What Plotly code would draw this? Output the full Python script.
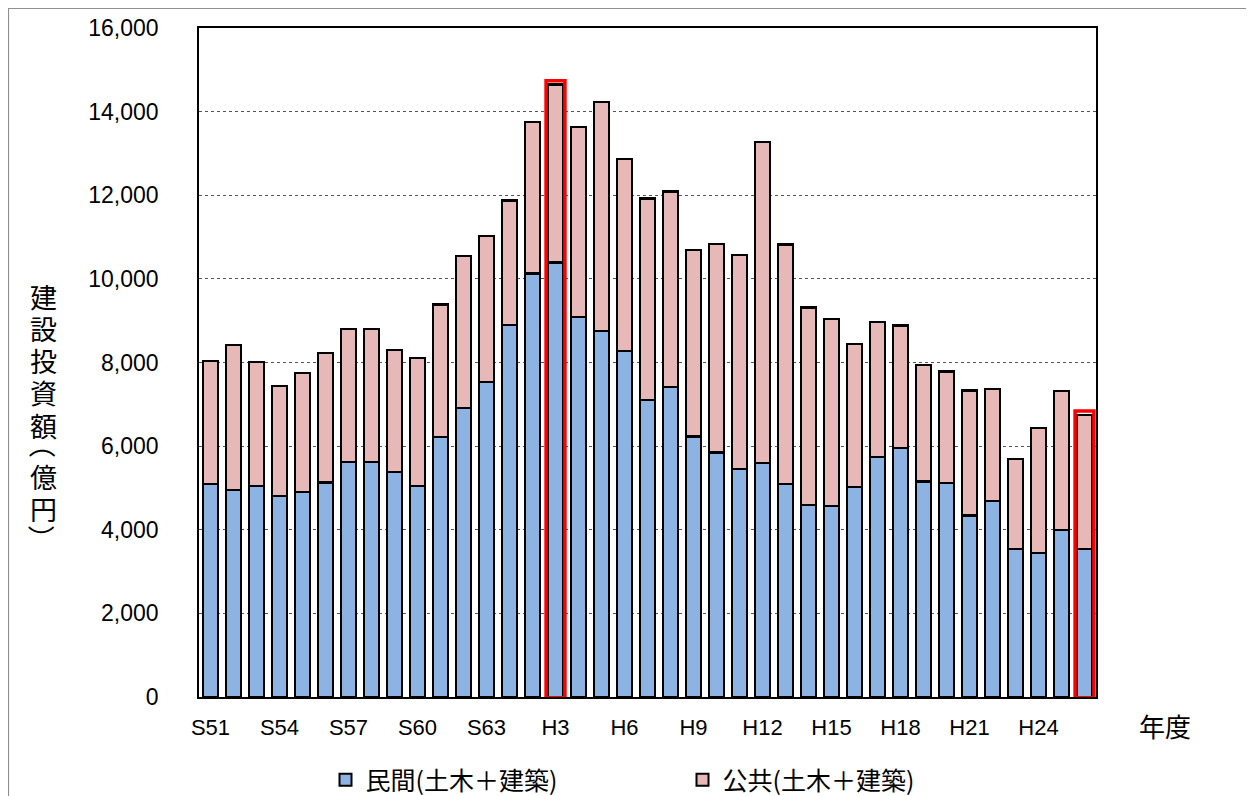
import plotly.graph_objects as go

# fiscal years S51 (1976) .. H26 (2014)
years = [f"S{n}" for n in range(51, 64)] + [f"H{n}" for n in range(1, 27)]

private = [5090, 4950, 5050, 4810, 4900, 5130, 5620, 5620, 5390, 5050,
           6210, 6910, 7530, 8890, 10130, 10390, 9080, 8750, 8270, 7110,
           7410, 6230, 5850, 5450, 5600, 5100, 4590, 4560, 5020, 5740,
           5950, 5155, 5120, 4340, 4680, 3545, 3450, 3985, 3545]
total = [8040, 8410, 8020, 7435, 7740, 8235, 8810, 8810, 8295, 8115,
         9385, 10555, 11035, 11875, 13755, 14650, 13630, 14235, 12870, 11920,
         12090, 10685, 10830, 10575, 13270, 10820, 9315, 9035, 8440, 8965,
         8885, 7945, 7785, 7330, 7365, 5690, 6440, 7315, 6750]
public = [t - p for t, p in zip(total, private)]

tick_labels = ["S51", "S54", "S57", "S60", "S63", "H3", "H6", "H9",
               "H12", "H15", "H18", "H21", "H24"]
highlight = ["H3", "H26"]

name_private = "民間(土木＋建築)"
name_public = "公共(土木＋建築)"
y_title_chars = ["建", "設", "投", "資", "額", "（", "億", "円", "）"]
x_unit = "年度"

JP = "Noto Sans CJK JP"
NUM = "Liberation Sans"

fig = go.Figure()
fig.add_bar(x=years, y=private, name=name_private,
            marker=dict(color="#8DB3E2", line=dict(color="black", width=2.2)))
fig.add_bar(x=years, y=public, name=name_public,
            marker=dict(color="#E6B9B8", line=dict(color="black", width=2.2)))

# page body has an 8px margin: figure is laid out in page coords minus 8
W, H = 1246, 788
L, T = 191, 20
pw, ph = 897, 669
R, B = W - L - pw, H - T - ph


def px_x(x):
    return (x - L) / pw


def px_y(y):
    return (T + ph - y) / ph


shapes = []
for h in highlight:
    i = years.index(h)
    shapes.append(dict(type="rect", xref="x", yref="y",
                       x0=i - 0.41, x1=i + 0.41, y0=-20, y1=total[i] + 90,
                       line=dict(color="#FF0000", width=3.5),
                       fillcolor="rgba(0,0,0,0)", layer="above"))

# outer chart-area frame
shapes.append(dict(type="rect", xref="paper", yref="paper",
                   x0=px_x(0.5), x1=px_x(1300), y0=px_y(820), y1=px_y(0.5),
                   line=dict(color="#909090", width=1.2),
                   fillcolor="rgba(0,0,0,0)", layer="below"))

# vertical y-axis title, one glyph per line (page y positions)
title_y = [296, 328, 360, 393, 425, 444, 476, 508, 538]
annotations = []
for ch, yy in zip(y_title_chars, title_y):
    paren = ch in "（）"
    annotations.append(dict(
        text=ch, xref="paper", yref="paper",
        x=px_x(43 - 8), y=px_y(yy - 8), showarrow=False,
        textangle=90 if paren else 0,
        font=dict(family=JP, size=27, color="black"),
        xanchor="center", yanchor="middle"))
annotations.append(dict(
    text=x_unit, xref="paper", yref="paper",
    x=px_x(1165 - 8), y=px_y(725 - 8), showarrow=False,
    font=dict(family=JP, size=26, color="black"),
    xanchor="center", yanchor="middle"))

fig.update_layout(
    width=W, height=H,
    margin=dict(l=L, r=R, t=T, b=B, autoexpand=False),
    barmode="stack", bargap=0.38,
    plot_bgcolor="white", paper_bgcolor="white",
    font=dict(family=NUM, color="black"),
    shapes=shapes,
    annotations=annotations,
    showlegend=True,
    legend=dict(orientation="h", x=0.5 + 35 / pw, xanchor="center",
                y=px_y(780 - 8), yanchor="middle",
                font=dict(family=JP, size=25, color="black"),
                entrywidth=312, entrywidthmode="pixels",
                itemsizing="constant", traceorder="normal"),
)

fig.update_xaxes(
    type="category", categoryorder="array", categoryarray=years,
    tickmode="array", tickvals=tick_labels, ticktext=tick_labels,
    tickfont=dict(family=NUM, size=22), ticks="", ticklabelstandoff=10,
    showline=True, linecolor="black", linewidth=1.5, mirror=True,
    showgrid=False, range=[-0.5, len(years) - 0.5],
)
fig.update_yaxes(
    range=[0, 16000], tickvals=list(range(0, 16001, 2000)),
    tickformat=",d", tickfont=dict(family=NUM, size=23), ticks="",
    ticklabelstandoff=34,
    showline=True, linecolor="black", linewidth=1.5, mirror=True,
    showgrid=True, gridcolor="#555555", griddash="dot", gridwidth=1,
    zeroline=False,
)

fig.write_html("out.html")
